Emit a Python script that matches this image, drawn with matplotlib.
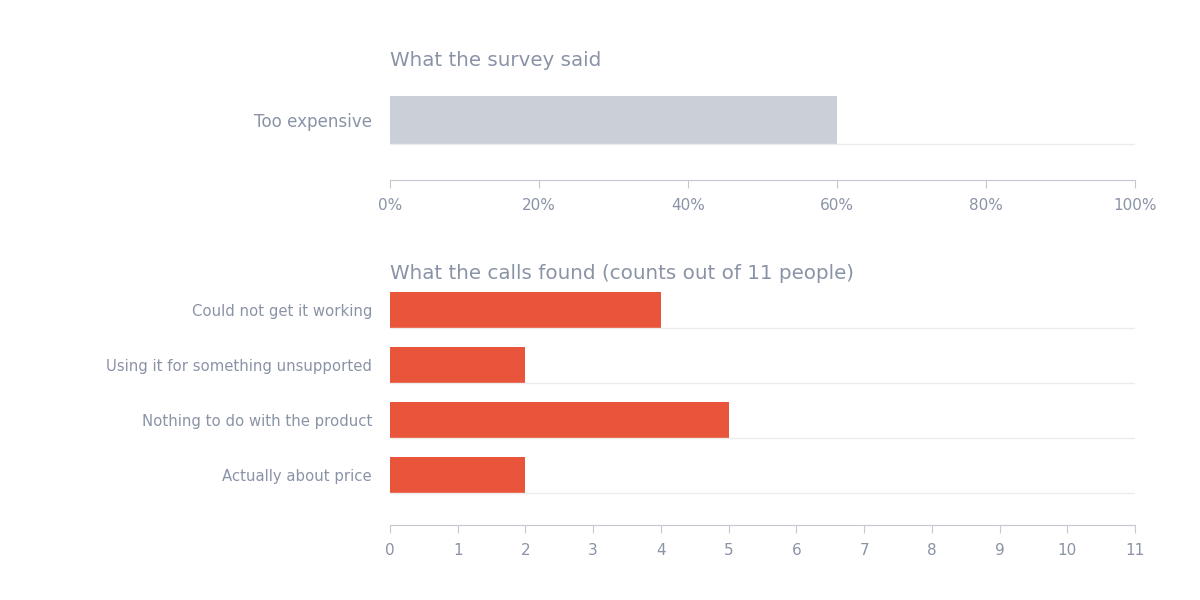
import matplotlib.pyplot as plt
from matplotlib.ticker import PercentFormatter

plt.rcParams['font.family'] = ['DejaVu Sans']

# Data
survey_labels = ['Too expensive']
survey_values = [60]

call_labels = ['Could not get it working', 'Using it for something unsupported',
               'Nothing to do with the product', 'Actually about price']
call_counts = [4, 2, 5, 2]
total_people = 11

# Style
text_col = '#8a93a6'
axis_col = '#c3c8d1'
grid_col = '#ececec'
gray_bar = '#cbd0d8'
red_bar = '#e9553b'
bar_h = 0.65

fig = plt.figure(figsize=(12, 6), dpi=100)

def style_axis(ax):
    for side in ['top', 'right', 'left']:
        ax.spines[side].set_visible(False)
    ax.spines['bottom'].set_color(axis_col)
    ax.tick_params(axis='x', colors=axis_col, labelcolor=text_col, length=6,
                   pad=7, labelsize=11)
    ax.tick_params(axis='y', length=0, pad=13, labelcolor=text_col)

# Top panel: survey
ax1 = fig.add_axes([390 / 1200, 1 - 180 / 600, 745 / 1200, 97 / 600])
ax1.barh(range(len(survey_values)), survey_values, height=bar_h, color=gray_bar, zorder=2)
for i in range(len(survey_values)):
    ax1.hlines(i - bar_h / 2, 0, 100, color=grid_col, lw=1, zorder=3)
ax1.set_xlim(0, 100)
ax1.set_ylim(-0.813, 0.5)
ax1.set_xticks(range(0, 101, 20))
ax1.xaxis.set_major_formatter(PercentFormatter(decimals=0))
ax1.set_yticks(range(len(survey_labels)))
ax1.set_yticklabels(survey_labels, fontsize=12.1)
style_axis(ax1)
fig.text(390 / 1200, 1 - 61 / 600, 'What the survey said', color=text_col,
         fontsize=14.3, ha='left', va='center')

# Bottom panel: calls
ax2 = fig.add_axes([390 / 1200, 1 - 525 / 600, 745 / 1200, 242.5 / 600])
ypos = list(range(len(call_counts)))
ax2.barh(ypos, call_counts, height=bar_h, color=red_bar, zorder=2)
for y in ypos:
    ax2.hlines(y + bar_h / 2, 0, total_people, color=grid_col, lw=1, zorder=3)
ax2.set_xlim(0, total_people)
ax2.set_ylim(len(call_counts) - 1 + 50 / 55, -0.5)
ax2.set_xticks(range(0, total_people + 1))
ax2.set_yticks(ypos)
ax2.set_yticklabels(call_labels, fontsize=10.7)
style_axis(ax2)
fig.text(390 / 1200, 1 - 273 / 600,
         f'What the calls found (counts out of {total_people} people)',
         color=text_col, fontsize=14.3, ha='left', va='center')

plt.savefig('out.png', dpi=100)
plt.close()
